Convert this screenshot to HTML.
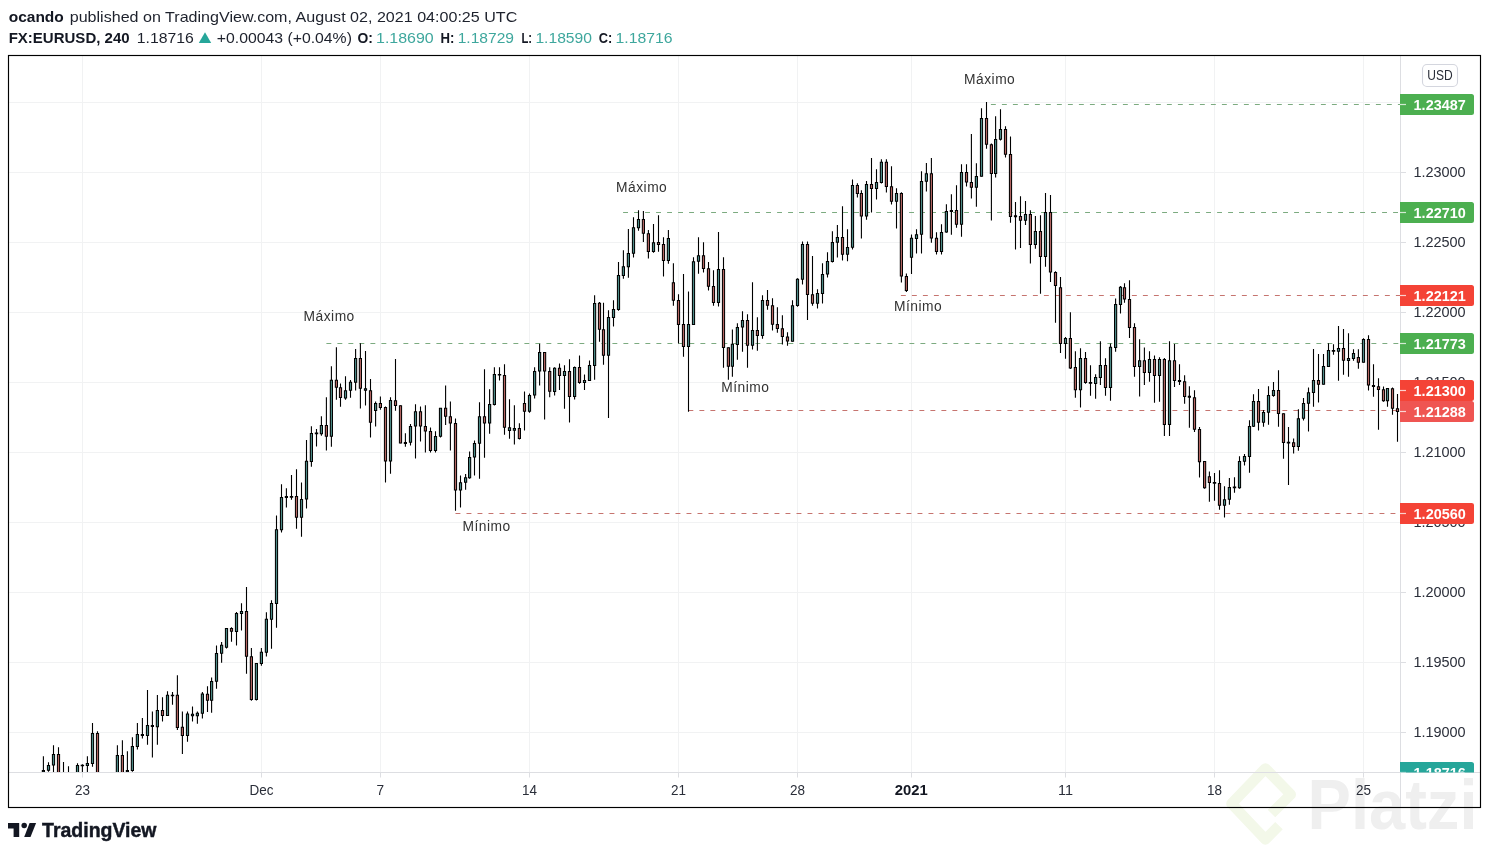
<!DOCTYPE html>
<html lang="es"><head><meta charset="utf-8"><title>EURUSD - TradingView</title>
<style>
html,body{margin:0;padding:0;background:#fff;}
body{width:1489px;height:854px;overflow:hidden;position:relative;font-family:"Liberation Sans",sans-serif;}
svg{position:absolute;left:0;top:0;display:block;will-change:transform;}
text{font-family:"Liberation Sans",sans-serif;}
.ax{font-size:15.3px;fill:#2a2e39;}
.lb{font-size:14.7px;font-weight:bold;fill:#fff;}
.tm{font-size:15.2px;fill:#2a2e39;text-anchor:middle;}
.nt{font-size:13.8px;fill:#333;letter-spacing:0.5px;}
.h{font-size:14.6px;fill:#1d212c;}
.hb{font-size:14.6px;font-weight:bold;fill:#131722;}
.ht{font-size:14.6px;fill:#3ea79d;}
</style></head><body>
<svg width="1489" height="854" viewBox="0 0 1489 854">
<rect x="0" y="0" width="1489" height="854" fill="#fff"/>
<g>
<path d="M1271.5 813.6 L1290.7 794.4 L1265.4 768.5 L1231.5 803.7 L1265.4 839.4 L1279 825.6" fill="none" stroke="#f3f8e9" stroke-width="10.6" stroke-linejoin="round" stroke-linecap="butt"/>
<text x="1307.5" y="829" style="font-size:69.5px;font-weight:bold;fill:#efefef" textLength="170" lengthAdjust="spacingAndGlyphs">Platzi</text>
</g>
<defs><clipPath id="cp"><rect x="9" y="56" width="1391" height="716"/></clipPath>
<clipPath id="cpa"><rect x="1400" y="56" width="80" height="716.5"/></clipPath></defs>
<g fill="#f1f2f3">
<rect x="82.0" y="56" width="1" height="716"/>
<rect x="261.0" y="56" width="1" height="716"/>
<rect x="380.0" y="56" width="1" height="716"/>
<rect x="529.0" y="56" width="1" height="716"/>
<rect x="678.0" y="56" width="1" height="716"/>
<rect x="797.0" y="56" width="1" height="716"/>
<rect x="911.0" y="56" width="1" height="716"/>
<rect x="1065.0" y="56" width="1" height="716"/>
<rect x="1214.0" y="56" width="1" height="716"/>
<rect x="1363.0" y="56" width="1" height="716"/>
<rect x="9" y="102.0" width="1391" height="1"/>
<rect x="9" y="172.0" width="1391" height="1"/>
<rect x="9" y="242.0" width="1391" height="1"/>
<rect x="9" y="312.0" width="1391" height="1"/>
<rect x="9" y="382.0" width="1391" height="1"/>
<rect x="9" y="452.0" width="1391" height="1"/>
<rect x="9" y="522.0" width="1391" height="1"/>
<rect x="9" y="592.0" width="1391" height="1"/>
<rect x="9" y="662.0" width="1391" height="1"/>
<rect x="9" y="732.0" width="1391" height="1"/>
</g>
<line x1="990.9" y1="104.5" x2="1406" y2="104.5" stroke="#7cab80" stroke-width="1.2" stroke-dasharray="4.9 6.1"/>
<line x1="623.1" y1="212.5" x2="1406" y2="212.5" stroke="#7cab80" stroke-width="1.2" stroke-dasharray="4.9 6.1"/>
<line x1="900.9" y1="295.5" x2="1406" y2="295.5" stroke="#c6746f" stroke-width="1.2" stroke-dasharray="4.9 6.1"/>
<line x1="326.4" y1="343.5" x2="1406" y2="343.5" stroke="#7cab80" stroke-width="1.2" stroke-dasharray="4.9 6.1"/>
<line x1="688.4" y1="410.5" x2="1406" y2="410.5" stroke="#c6746f" stroke-width="1.2" stroke-dasharray="4.9 6.1"/>
<line x1="455.5" y1="513.5" x2="1406" y2="513.5" stroke="#c6746f" stroke-width="1.2" stroke-dasharray="4.9 6.1"/>
<g clip-path="url(#cp)">
<path d="M42.85 756.2h1.1V773.0h-1.1zM47.95 762.3h1.1V771.7h-1.1zM52.95 745.2h1.1V773.0h-1.1zM57.95 747.3h1.1V773.0h-1.1zM62.95 762.1h1.1V773.0h-1.1zM67.95 766.3h1.1V773.0h-1.1zM76.95 763.2h1.1V773.0h-1.1zM81.85 764.2h1.1V773.0h-1.1zM86.85 756.2h1.1V773.0h-1.1zM91.95 723.1h1.1V766.7h-1.1zM96.95 731.2h1.1V773.0h-1.1zM116.85 745.2h1.1V773.0h-1.1zM121.85 740.3h1.1V773.0h-1.1zM126.85 751.2h1.1V773.0h-1.1zM131.85 737.3h1.1V771.7h-1.1zM136.85 723.1h1.1V749.6h-1.1zM141.85 718.1h1.1V738.6h-1.1zM146.95 690.1h1.1V744.7h-1.1zM151.85 711.4h1.1V757.6h-1.1zM156.85 695.1h1.1V744.7h-1.1zM161.95 697.2h1.1V721.5h-1.1zM166.95 691.3h1.1V715.6h-1.1zM171.95 692.1h1.1V704.7h-1.1zM176.85 675.3h1.1V729.9h-1.1zM181.85 711.4h1.1V753.9h-1.1zM186.95 711.4h1.1V741.7h-1.1zM191.95 706.4h1.1V721.5h-1.1zM196.85 711.4h1.1V723.7h-1.1zM201.85 692.1h1.1V718.6h-1.1zM206.95 686.2h1.1V711.9h-1.1zM211.05 677.5h1.1V712.8h-1.1zM215.95 645.4h1.1V688.8h-1.1zM221.05 642.1h1.1V662.7h-1.1zM225.95 628.2h1.1V648.4h-1.1zM230.95 627.3h1.1V641.8h-1.1zM235.95 612.1h1.1V645.6h-1.1zM240.95 603.2h1.1V630.5h-1.1zM245.95 587.1h1.1V673.8h-1.1zM250.85 648.1h1.1V700.7h-1.1zM255.85 663.3h1.1V700.5h-1.1zM260.85 648.1h1.1V665.8h-1.1zM265.85 612.3h1.1V656.5h-1.1zM270.95 600.2h1.1V648.7h-1.1zM275.95 515.4h1.1V627.7h-1.1zM280.95 484.3h1.1V532.5h-1.1zM285.85 488.3h1.1V507.6h-1.1zM290.95 475.1h1.1V499.8h-1.1zM295.95 469.2h1.1V528.8h-1.1zM300.95 482.5h1.1V536.7h-1.1zM305.95 440.1h1.1V508.6h-1.1zM310.85 426.2h1.1V466.7h-1.1zM315.95 429.1h1.1V446.6h-1.1zM320.85 416.2h1.1V435.8h-1.1zM325.85 397.2h1.1V450.6h-1.1zM330.85 366.2h1.1V446.7h-1.1zM335.85 347.2h1.1V399.8h-1.1zM339.95 383.5h1.1V406.8h-1.1zM344.95 376.2h1.1V399.8h-1.1zM349.95 380.1h1.1V397.7h-1.1zM355.05 349.0h1.1V390.5h-1.1zM359.85 343.2h1.1V408.6h-1.1zM364.95 351.1h1.1V405.6h-1.1zM369.95 379.1h1.1V437.5h-1.1zM375.05 401.4h1.1V426.6h-1.1zM379.85 396.4h1.1V409.8h-1.1zM384.95 406.5h1.1V482.6h-1.1zM389.95 397.2h1.1V473.7h-1.1zM394.95 359.1h1.1V410.7h-1.1zM399.95 405.6h1.1V443.3h-1.1zM404.85 433.3h1.1V446.7h-1.1zM409.95 424.1h1.1V445.6h-1.1zM414.95 404.3h1.1V458.5h-1.1zM419.95 406.5h1.1V441.6h-1.1zM424.85 405.3h1.1V452.6h-1.1zM429.95 427.5h1.1V452.6h-1.1zM434.95 431.3h1.1V452.6h-1.1zM439.95 408.1h1.1V437.5h-1.1zM445.05 385.5h1.1V424.9h-1.1zM449.85 401.4h1.1V450.6h-1.1zM454.95 418.6h1.1V510.7h-1.1zM459.95 475.4h1.1V507.6h-1.1zM465.05 474.1h1.1V489.7h-1.1zM469.05 451.4h1.1V478.8h-1.1zM473.95 440.4h1.1V475.4h-1.1zM478.95 402.3h1.1V478.8h-1.1zM483.95 369.2h1.1V457.7h-1.1zM489.05 389.2h1.1V433.8h-1.1zM493.85 367.3h1.1V405.6h-1.1zM498.95 367.3h1.1V380.4h-1.1zM503.95 364.2h1.1V434.7h-1.1zM508.95 399.2h1.1V438.7h-1.1zM513.85 405.3h1.1V444.6h-1.1zM518.85 423.3h1.1V439.5h-1.1zM523.95 391.4h1.1V430.5h-1.1zM528.95 393.4h1.1V412.7h-1.1zM534.05 367.3h1.1V398.6h-1.1zM539.05 343.8h1.1V385.5h-1.1zM544.05 352.2h1.1V419.6h-1.1zM549.15 367.3h1.1V397.2h-1.1zM554.05 367.2h1.1V395.4h-1.1zM558.95 363.4h1.1V389.9h-1.1zM563.95 365.2h1.1V408.7h-1.1zM568.95 359.2h1.1V422.6h-1.1zM574.05 366.4h1.1V399.6h-1.1zM578.95 355.5h1.1V383.7h-1.1zM583.95 374.5h1.1V389.9h-1.1zM588.95 360.5h1.1V380.7h-1.1zM594.05 295.3h1.1V379.8h-1.1zM598.95 302.1h1.1V341.7h-1.1zM602.95 302.8h1.1V364.7h-1.1zM607.95 310.3h1.1V417.9h-1.1zM612.95 300.2h1.1V326.6h-1.1zM617.95 262.0h1.1V310.7h-1.1zM622.85 250.3h1.1V278.8h-1.1zM627.85 229.1h1.1V277.8h-1.1zM632.95 217.3h1.1V257.6h-1.1zM637.95 210.3h1.1V230.8h-1.1zM642.85 211.1h1.1V241.9h-1.1zM647.85 230.1h1.1V258.6h-1.1zM652.95 224.1h1.1V252.8h-1.1zM657.95 215.3h1.1V251.8h-1.1zM662.95 237.2h1.1V276.6h-1.1zM667.85 230.1h1.1V263.7h-1.1zM672.85 263.2h1.1V305.7h-1.1zM677.95 294.3h1.1V343.4h-1.1zM682.95 274.1h1.1V356.8h-1.1zM687.95 291.4h1.1V411.7h-1.1zM692.95 257.3h1.1V324.8h-1.1zM697.95 237.2h1.1V273.8h-1.1zM702.95 242.2h1.1V272.4h-1.1zM707.95 262.0h1.1V290.6h-1.1zM712.95 270.2h1.1V305.7h-1.1zM717.95 232.1h1.1V306.4h-1.1zM722.95 257.3h1.1V367.7h-1.1zM727.85 347.6h1.1V379.8h-1.1zM731.85 329.5h1.1V376.8h-1.1zM736.85 323.2h1.1V359.7h-1.1zM741.95 311.2h1.1V351.8h-1.1zM746.95 314.3h1.1V367.7h-1.1zM751.95 282.2h1.1V349.6h-1.1zM756.85 317.2h1.1V350.8h-1.1zM761.95 295.3h1.1V338.7h-1.1zM766.95 290.0h1.1V309.8h-1.1zM771.95 298.2h1.1V330.6h-1.1zM776.85 307.3h1.1V332.8h-1.1zM781.85 315.2h1.1V344.6h-1.1zM786.95 332.3h1.1V345.7h-1.1zM791.95 300.2h1.1V341.4h-1.1zM796.95 278.3h1.1V306.8h-1.1zM801.95 241.4h1.1V284.5h-1.1zM806.95 241.4h1.1V320.0h-1.1zM811.95 256.1h1.1V305.7h-1.1zM816.95 289.3h1.1V308.5h-1.1zM821.95 263.2h1.1V303.5h-1.1zM826.95 252.2h1.1V277.5h-1.1zM831.85 231.3h1.1V262.6h-1.1zM836.85 225.1h1.1V257.5h-1.1zM841.95 206.2h1.1V260.5h-1.1zM846.95 229.2h1.1V261.3h-1.1zM851.95 179.4h1.1V249.6h-1.1zM856.85 183.2h1.1V197.5h-1.1zM860.85 190.3h1.1V238.6h-1.1zM865.95 181.1h1.1V219.7h-1.1zM870.95 158.1h1.1V212.6h-1.1zM875.95 169.3h1.1V199.5h-1.1zM880.85 159.2h1.1V183.6h-1.1zM885.85 159.2h1.1V192.5h-1.1zM890.95 166.3h1.1V204.6h-1.1zM895.95 188.3h1.1V228.6h-1.1zM900.85 192.3h1.1V282.6h-1.1zM905.85 273.4h1.1V291.9h-1.1zM910.95 234.5h1.1V273.9h-1.1zM915.95 229.2h1.1V253.6h-1.1zM920.95 171.3h1.1V253.6h-1.1zM925.85 163.1h1.1V191.6h-1.1zM930.85 158.1h1.1V242.7h-1.1zM935.95 232.3h1.1V254.4h-1.1zM940.95 224.2h1.1V254.4h-1.1zM945.85 204.2h1.1V232.8h-1.1zM950.85 194.2h1.1V234.8h-1.1zM955.95 185.3h1.1V227.7h-1.1zM960.95 164.3h1.1V236.8h-1.1zM965.95 164.3h1.1V186.6h-1.1zM970.85 133.9h1.1V198.6h-1.1zM975.85 163.2h1.1V206.7h-1.1zM980.95 108.2h1.1V176.4h-1.1zM985.95 102.0h1.1V148.7h-1.1zM990.85 143.4h1.1V220.5h-1.1zM995.05 116.2h1.1V177.6h-1.1zM999.95 109.2h1.1V140.6h-1.1zM1004.95 126.3h1.1V157.5h-1.1zM1009.95 136.4h1.1V222.7h-1.1zM1014.95 202.0h1.1V249.6h-1.1zM1019.95 196.3h1.1V247.9h-1.1zM1024.95 201.1h1.1V224.9h-1.1zM1029.85 210.2h1.1V263.6h-1.1zM1034.85 216.1h1.1V248.8h-1.1zM1039.95 215.3h1.1V293.8h-1.1zM1044.95 193.1h1.1V266.8h-1.1zM1049.95 195.1h1.1V281.9h-1.1zM1054.95 271.2h1.1V322.7h-1.1zM1059.95 277.0h1.1V353.0h-1.1zM1064.95 337.0h1.1V358.8h-1.1zM1069.85 312.2h1.1V368.9h-1.1zM1074.85 351.3h1.1V397.8h-1.1zM1079.95 348.3h1.1V407.5h-1.1zM1084.95 352.1h1.1V383.7h-1.1zM1089.95 365.2h1.1V395.8h-1.1zM1095.05 374.3h1.1V398.8h-1.1zM1099.85 341.2h1.1V384.9h-1.1zM1104.95 358.3h1.1V395.8h-1.1zM1109.95 343.4h1.1V400.8h-1.1zM1115.05 298.4h1.1V351.8h-1.1zM1119.95 286.1h1.1V313.6h-1.1zM1123.95 283.3h1.1V302.8h-1.1zM1128.95 280.2h1.1V337.9h-1.1zM1133.95 323.2h1.1V376.8h-1.1zM1139.05 339.2h1.1V396.6h-1.1zM1143.85 347.4h1.1V384.9h-1.1zM1148.95 351.3h1.1V381.8h-1.1zM1153.95 355.5h1.1V402.8h-1.1zM1158.95 357.2h1.1V401.7h-1.1zM1163.85 358.0h1.1V436.0h-1.1zM1168.95 341.2h1.1V436.0h-1.1zM1173.95 344.1h1.1V386.9h-1.1zM1178.95 364.2h1.1V384.9h-1.1zM1184.05 375.3h1.1V403.8h-1.1zM1188.85 386.2h1.1V427.7h-1.1zM1193.95 390.2h1.1V432.0h-1.1zM1198.95 426.9h1.1V477.6h-1.1zM1204.05 461.4h1.1V488.7h-1.1zM1208.85 471.4h1.1V501.7h-1.1zM1213.95 473.1h1.1V500.8h-1.1zM1218.95 470.3h1.1V509.7h-1.1zM1223.95 486.2h1.1V517.6h-1.1zM1228.85 478.1h1.1V504.7h-1.1zM1233.95 477.3h1.1V492.8h-1.1zM1238.95 456.3h1.1V488.7h-1.1zM1243.95 454.1h1.1V465.6h-1.1zM1248.95 420.2h1.1V472.8h-1.1zM1252.95 394.2h1.1V427.0h-1.1zM1257.95 389.1h1.1V430.6h-1.1zM1262.95 410.1h1.1V426.7h-1.1zM1267.95 386.2h1.1V424.8h-1.1zM1272.95 382.0h1.1V396.8h-1.1zM1277.95 370.2h1.1V426.7h-1.1zM1282.95 413.5h1.1V458.8h-1.1zM1287.95 427.0h1.1V484.9h-1.1zM1293.05 438.4h1.1V453.5h-1.1zM1297.85 409.3h1.1V450.8h-1.1zM1302.95 398.1h1.1V420.6h-1.1zM1307.95 387.4h1.1V431.6h-1.1zM1312.95 349.1h1.1V406.8h-1.1zM1317.95 354.1h1.1V402.6h-1.1zM1322.95 354.1h1.1V384.5h-1.1zM1327.95 343.2h1.1V366.6h-1.1zM1332.95 344.3h1.1V354.8h-1.1zM1337.95 326.1h1.1V380.8h-1.1zM1342.95 329.1h1.1V374.8h-1.1zM1347.95 333.2h1.1V376.8h-1.1zM1352.95 349.3h1.1V360.7h-1.1zM1357.85 349.3h1.1V368.7h-1.1zM1362.95 338.2h1.1V362.4h-1.1zM1367.95 335.2h1.1V390.6h-1.1zM1372.95 364.2h1.1V396.7h-1.1zM1377.95 378.3h1.1V429.8h-1.1zM1382.95 386.6h1.1V401.8h-1.1zM1386.95 388.4h1.1V406.8h-1.1zM1391.95 387.4h1.1V414.8h-1.1zM1396.95 394.1h1.1V441.7h-1.1z" fill="#000"/>
<path d="M41.80 770.0h3.2V772.3h-3.2zM46.90 765.0h3.2V770.7h-3.2zM51.90 754.0h3.2V765.6h-3.2zM56.90 754.0h3.2V773.3h-3.2zM61.80 772.2h3.4V773.8h-3.4zM66.80 772.2h3.4V773.8h-3.4zM75.90 765.0h3.2V773.3h-3.2zM80.70 764.8h3.4V766.3h-3.4zM85.80 762.9h3.2V765.9h-3.2zM90.90 733.0h3.2V764.0h-3.2zM95.90 733.0h3.2V773.3h-3.2zM115.80 755.0h3.2V773.3h-3.2zM120.80 755.0h3.2V773.3h-3.2zM125.80 770.0h3.2V772.3h-3.2zM130.80 745.9h3.2V771.0h-3.2zM135.80 733.9h3.2V746.9h-3.2zM140.80 733.9h3.2V736.1h-3.2zM145.90 724.9h3.2V736.1h-3.2zM150.80 725.1h3.2V726.9h-3.2zM155.80 710.0h3.2V727.2h-3.2zM160.90 710.0h3.2V715.9h-3.2zM165.90 694.8h3.2V715.9h-3.2zM170.80 694.7h3.4V696.3h-3.4zM175.80 694.8h3.2V728.0h-3.2zM180.80 726.7h3.2V736.1h-3.2zM185.90 713.6h3.2V736.1h-3.2zM190.90 713.7h3.2V716.3h-3.2zM195.80 712.8h3.2V716.3h-3.2zM200.80 693.5h3.2V713.7h-3.2zM205.90 693.8h3.2V700.8h-3.2zM210.00 680.9h3.2V700.8h-3.2zM214.90 652.9h3.2V681.8h-3.2zM220.00 644.8h3.2V653.8h-3.2zM224.90 627.9h3.2V647.7h-3.2zM229.90 627.9h3.2V631.8h-3.2zM234.90 612.9h3.2V631.9h-3.2zM239.90 610.9h3.2V614.0h-3.2zM244.90 610.9h3.2V656.8h-3.2zM249.80 656.2h3.2V700.0h-3.2zM254.80 663.0h3.2V700.0h-3.2zM259.80 651.7h3.2V664.1h-3.2zM264.80 618.8h3.2V652.7h-3.2zM269.90 602.9h3.2V619.8h-3.2zM274.90 529.2h3.2V603.9h-3.2zM279.90 496.9h3.2V530.3h-3.2zM284.80 496.1h3.2V497.9h-3.2zM289.80 496.1h3.4V497.8h-3.4zM294.90 496.1h3.2V517.7h-3.2zM299.90 498.9h3.2V517.7h-3.2zM304.90 460.8h3.2V499.5h-3.2zM309.80 433.0h3.2V462.0h-3.2zM314.80 432.6h3.4V434.2h-3.4zM319.80 425.1h3.2V434.3h-3.2zM324.80 425.1h3.2V436.7h-3.2zM329.80 379.8h3.2V436.7h-3.2zM334.80 379.8h3.2V387.8h-3.2zM338.90 387.2h3.2V397.9h-3.2zM343.90 390.2h3.2V398.4h-3.2zM348.90 381.8h3.2V390.8h-3.2zM354.00 358.0h3.2V382.8h-3.2zM358.80 358.0h3.2V388.8h-3.2zM363.90 388.2h3.2V390.8h-3.2zM368.90 390.2h3.2V422.7h-3.2zM374.00 403.1h3.2V411.0h-3.2zM378.80 403.1h3.2V407.9h-3.2zM383.90 407.0h3.2V461.4h-3.2zM388.90 400.0h3.2V461.4h-3.2zM393.90 400.3h3.2V405.9h-3.2zM398.90 405.3h3.2V443.6h-3.2zM403.80 442.1h3.2V443.9h-3.2zM408.90 426.0h3.2V442.7h-3.2zM413.90 411.2h3.2V426.6h-3.2zM418.90 411.2h3.2V426.6h-3.2zM423.80 426.0h3.2V431.6h-3.2zM428.90 431.0h3.2V450.9h-3.2zM433.90 436.1h3.2V450.9h-3.2zM438.90 407.8h3.2V436.7h-3.2zM444.00 407.8h3.2V416.8h-3.2zM448.80 416.2h3.2V423.6h-3.2zM453.90 423.0h3.2V490.5h-3.2zM458.90 482.2h3.2V490.5h-3.2zM464.00 477.3h3.2V482.8h-3.2zM468.00 457.0h3.2V478.2h-3.2zM472.90 443.1h3.2V457.6h-3.2zM477.90 416.2h3.2V443.7h-3.2zM482.90 416.2h3.2V423.6h-3.2zM488.00 404.0h3.2V423.6h-3.2zM492.80 373.9h3.2V405.1h-3.2zM497.80 374.0h3.4V375.6h-3.4zM502.90 375.1h3.2V427.8h-3.2zM507.90 427.2h3.2V431.1h-3.2zM512.80 428.0h3.2V430.8h-3.2zM517.80 428.0h3.2V439.0h-3.2zM522.90 403.1h3.2V411.8h-3.2zM527.90 394.9h3.2V411.8h-3.2zM533.00 370.9h3.2V395.5h-3.2zM538.00 351.9h3.2V371.5h-3.2zM543.00 351.9h3.2V371.5h-3.2zM548.10 370.9h3.2V391.7h-3.2zM553.00 367.8h3.2V391.9h-3.2zM557.90 367.8h3.2V375.9h-3.2zM562.90 371.1h3.2V375.9h-3.2zM567.90 371.1h3.2V396.9h-3.2zM573.00 366.9h3.2V396.9h-3.2zM577.90 366.9h3.2V383.1h-3.2zM582.90 379.9h3.2V383.1h-3.2zM587.90 364.9h3.2V381.0h-3.2zM593.00 302.9h3.2V365.9h-3.2zM597.90 302.8h3.2V329.8h-3.2zM601.90 329.2h3.2V355.8h-3.2zM606.90 316.9h3.2V355.8h-3.2zM611.90 309.0h3.2V318.0h-3.2zM616.90 275.1h3.2V310.0h-3.2zM621.80 266.2h3.2V276.1h-3.2zM626.80 253.1h3.2V267.2h-3.2zM631.90 227.3h3.2V253.7h-3.2zM636.90 218.9h3.2V228.2h-3.2zM641.80 218.9h3.2V233.8h-3.2zM646.80 233.2h3.2V252.1h-3.2zM651.90 242.2h3.2V252.1h-3.2zM656.90 241.9h3.2V245.0h-3.2zM661.90 244.1h3.2V261.0h-3.2zM666.80 238.0h3.2V261.0h-3.2zM671.80 282.2h3.2V300.8h-3.2zM676.90 299.9h3.2V325.1h-3.2zM681.90 324.1h3.2V346.9h-3.2zM686.90 324.1h3.2V346.9h-3.2zM691.90 261.2h3.2V325.1h-3.2zM696.90 255.3h3.2V261.8h-3.2zM701.90 255.3h3.2V268.9h-3.2zM706.90 268.3h3.2V286.7h-3.2zM711.90 286.1h3.2V302.9h-3.2zM716.90 269.1h3.2V302.9h-3.2zM721.90 269.1h3.2V347.9h-3.2zM726.80 347.3h3.2V366.7h-3.2zM730.80 343.8h3.2V366.7h-3.2zM735.80 327.0h3.2V344.9h-3.2zM740.90 319.9h3.2V327.6h-3.2zM745.90 319.9h3.2V345.7h-3.2zM750.90 330.0h3.2V345.7h-3.2zM755.80 330.0h3.2V336.0h-3.2zM760.90 300.0h3.2V336.0h-3.2zM765.90 300.0h3.2V305.8h-3.2zM770.90 305.2h3.2V324.7h-3.2zM775.80 324.1h3.2V328.9h-3.2zM780.80 328.3h3.2V337.0h-3.2zM785.90 336.4h3.2V341.5h-3.2zM790.90 305.2h3.2V341.7h-3.2zM795.90 278.7h3.2V306.0h-3.2zM800.90 244.1h3.2V279.7h-3.2zM805.90 244.1h3.2V294.9h-3.2zM810.90 294.3h3.2V303.8h-3.2zM815.90 293.1h3.2V303.8h-3.2zM820.90 274.0h3.2V294.0h-3.2zM825.90 261.1h3.2V274.6h-3.2zM830.80 241.9h3.2V262.1h-3.2zM835.80 236.9h3.2V242.7h-3.2zM840.90 237.0h3.2V254.7h-3.2zM845.90 247.1h3.2V254.7h-3.2zM850.90 185.0h3.2V247.7h-3.2zM855.80 185.0h3.2V194.0h-3.2zM859.80 193.0h3.2V216.6h-3.2zM864.90 184.1h3.2V216.6h-3.2zM869.90 184.1h3.2V188.9h-3.2zM874.90 181.9h3.2V188.9h-3.2zM879.80 161.8h3.2V183.0h-3.2zM884.80 161.8h3.2V186.9h-3.2zM889.90 186.3h3.2V201.8h-3.2zM894.90 193.0h3.2V201.8h-3.2zM899.80 193.0h3.2V276.6h-3.2zM904.80 276.0h3.2V291.0h-3.2zM909.90 237.8h3.2V257.8h-3.2zM914.90 234.2h3.2V239.0h-3.2zM919.90 181.1h3.2V234.8h-3.2zM924.80 173.2h3.2V181.7h-3.2zM929.80 173.2h3.2V238.4h-3.2zM934.90 237.8h3.2V251.9h-3.2zM939.90 232.0h3.2V251.9h-3.2zM944.80 211.0h3.2V232.6h-3.2zM949.80 210.1h3.2V212.1h-3.2zM954.90 210.1h3.2V224.7h-3.2zM959.90 171.9h3.2V224.7h-3.2zM964.90 171.9h3.2V182.5h-3.2zM969.80 181.9h3.2V187.8h-3.2zM974.80 176.1h3.2V187.8h-3.2zM979.90 118.1h3.2V176.7h-3.2zM984.90 118.1h3.2V144.8h-3.2zM989.80 144.2h3.2V173.9h-3.2zM994.00 139.1h3.2V173.9h-3.2zM998.90 128.9h3.2V139.7h-3.2zM1003.90 128.9h3.2V154.7h-3.2zM1008.90 154.1h3.2V217.0h-3.2zM1013.90 215.3h3.2V217.2h-3.2zM1018.90 215.9h3.2V220.8h-3.2zM1023.90 214.0h3.2V220.8h-3.2zM1028.80 214.1h3.2V244.9h-3.2zM1033.80 230.9h3.2V244.9h-3.2zM1038.90 230.9h3.2V257.0h-3.2zM1043.90 211.9h3.2V257.0h-3.2zM1048.90 211.9h3.2V272.6h-3.2zM1053.90 272.0h3.2V286.1h-3.2zM1058.90 287.2h3.2V344.0h-3.2zM1063.90 338.1h3.2V344.0h-3.2zM1068.80 338.1h3.2V368.4h-3.2zM1073.80 366.9h3.2V390.2h-3.2zM1078.90 358.0h3.2V390.2h-3.2zM1083.90 358.0h3.2V383.1h-3.2zM1088.80 382.1h3.4V383.7h-3.4zM1094.00 377.0h3.2V384.0h-3.2zM1098.80 364.9h3.2V377.9h-3.2zM1103.90 364.9h3.2V388.0h-3.2zM1108.90 346.8h3.2V388.0h-3.2zM1114.00 304.0h3.2V347.9h-3.2zM1118.90 286.8h3.2V305.0h-3.2zM1122.90 287.2h3.2V299.6h-3.2zM1127.90 299.0h3.2V328.1h-3.2zM1132.90 327.0h3.2V367.0h-3.2zM1138.00 360.2h3.2V367.0h-3.2zM1142.80 360.2h3.2V372.9h-3.2zM1147.90 359.0h3.2V372.9h-3.2zM1152.90 359.0h3.2V375.9h-3.2zM1157.90 359.0h3.2V375.9h-3.2zM1162.80 359.0h3.2V425.0h-3.2zM1167.90 360.2h3.2V425.0h-3.2zM1172.90 360.2h3.2V381.0h-3.2zM1177.90 379.9h3.2V382.1h-3.2zM1183.00 381.2h3.2V396.9h-3.2zM1187.80 395.8h3.2V397.8h-3.2zM1192.90 397.2h3.2V429.7h-3.2zM1197.90 428.9h3.2V462.2h-3.2zM1203.00 461.1h3.2V488.2h-3.2zM1207.80 476.2h3.2V483.0h-3.2zM1212.80 482.1h3.4V483.7h-3.4zM1217.90 482.9h3.2V505.8h-3.2zM1222.90 499.2h3.2V505.8h-3.2zM1227.80 487.1h3.2V499.8h-3.2zM1232.80 486.6h3.4V488.2h-3.4zM1237.90 461.1h3.2V488.2h-3.2zM1242.90 456.0h3.2V461.7h-3.2zM1247.90 426.1h3.2V457.0h-3.2zM1251.90 401.1h3.2V426.7h-3.2zM1256.90 401.1h3.2V422.7h-3.2zM1261.90 411.9h3.2V422.7h-3.2zM1266.90 395.1h3.2V412.7h-3.2zM1271.90 389.9h3.2V396.1h-3.2zM1276.90 389.9h3.2V413.9h-3.2zM1281.90 413.2h3.2V442.9h-3.2zM1286.80 441.8h3.4V443.4h-3.4zM1292.00 442.3h3.2V446.9h-3.2zM1296.80 418.2h3.2V446.9h-3.2zM1301.90 403.1h3.2V418.8h-3.2zM1306.90 392.2h3.2V403.7h-3.2zM1311.90 379.9h3.2V392.9h-3.2zM1316.90 379.9h3.2V384.8h-3.2zM1321.90 365.9h3.2V384.8h-3.2zM1326.90 350.0h3.2V366.9h-3.2zM1331.80 350.1h3.4V351.7h-3.4zM1336.90 348.0h3.2V351.8h-3.2zM1341.90 348.0h3.2V360.7h-3.2zM1346.90 358.1h3.2V361.0h-3.2zM1351.90 353.0h3.2V359.0h-3.2zM1356.80 357.0h3.2V362.7h-3.2zM1361.90 338.9h3.2V362.7h-3.2zM1366.90 338.9h3.2V385.6h-3.2zM1371.90 385.0h3.2V386.9h-3.2zM1376.90 386.3h3.2V389.9h-3.2zM1381.90 389.3h3.2V401.2h-3.2zM1385.90 388.1h3.2V401.2h-3.2zM1390.90 388.3h3.2V408.8h-3.2zM1395.90 408.2h3.2V412.1h-3.2z" fill="#000"/>
<path d="M42.82 771.0h1.16V771.3h-1.16zM47.92 766.0h1.16V769.7h-1.16zM52.92 755.0h1.16V764.6h-1.16zM76.92 766.0h1.16V772.3h-1.16zM86.82 763.9h1.16V764.9h-1.16zM91.92 734.0h1.16V763.0h-1.16zM116.82 756.0h1.16V772.3h-1.16zM126.82 771.0h1.16V771.3h-1.16zM131.82 746.9h1.16V770.0h-1.16zM136.82 734.9h1.16V745.9h-1.16zM146.92 725.9h1.16V735.1h-1.16zM156.82 711.0h1.16V726.2h-1.16zM166.92 695.8h1.16V714.9h-1.16zM186.92 714.6h1.16V735.1h-1.16zM191.92 714.7h1.16V715.3h-1.16zM196.82 713.8h1.16V715.3h-1.16zM201.82 694.5h1.16V712.7h-1.16zM211.02 681.9h1.16V699.8h-1.16zM215.92 653.9h1.16V680.8h-1.16zM221.02 645.8h1.16V652.8h-1.16zM225.92 628.9h1.16V646.7h-1.16zM235.92 613.9h1.16V630.9h-1.16zM240.92 611.9h1.16V613.0h-1.16zM255.82 664.0h1.16V699.0h-1.16zM260.82 652.7h1.16V663.1h-1.16zM265.82 619.8h1.16V651.7h-1.16zM270.92 603.9h1.16V618.8h-1.16zM275.92 530.2h1.16V602.9h-1.16zM280.92 497.9h1.16V529.3h-1.16zM300.92 499.9h1.16V516.7h-1.16zM305.92 461.8h1.16V498.5h-1.16zM310.82 434.0h1.16V461.0h-1.16zM320.82 426.1h1.16V433.3h-1.16zM330.82 380.8h1.16V435.7h-1.16zM344.92 391.2h1.16V397.4h-1.16zM349.92 382.8h1.16V389.8h-1.16zM355.02 359.0h1.16V381.8h-1.16zM364.92 389.2h1.16V389.8h-1.16zM375.02 404.1h1.16V410.0h-1.16zM389.92 401.0h1.16V460.4h-1.16zM409.92 427.0h1.16V441.7h-1.16zM414.92 412.2h1.16V425.6h-1.16zM434.92 437.1h1.16V449.9h-1.16zM439.92 408.8h1.16V435.7h-1.16zM459.92 483.2h1.16V489.5h-1.16zM465.02 478.3h1.16V481.8h-1.16zM469.02 458.0h1.16V477.2h-1.16zM473.92 444.1h1.16V456.6h-1.16zM478.92 417.2h1.16V442.7h-1.16zM489.02 405.0h1.16V422.6h-1.16zM493.82 374.9h1.16V404.1h-1.16zM508.92 428.2h1.16V430.1h-1.16zM513.82 429.0h1.16V429.8h-1.16zM528.92 395.9h1.16V410.8h-1.16zM534.02 371.9h1.16V394.5h-1.16zM539.02 352.9h1.16V370.5h-1.16zM554.02 368.8h1.16V390.9h-1.16zM563.92 372.1h1.16V374.9h-1.16zM574.02 367.9h1.16V395.9h-1.16zM583.92 380.9h1.16V382.1h-1.16zM588.92 365.9h1.16V380.0h-1.16zM594.02 303.9h1.16V364.9h-1.16zM607.92 317.9h1.16V354.8h-1.16zM612.92 310.0h1.16V317.0h-1.16zM617.92 276.1h1.16V309.0h-1.16zM622.82 267.2h1.16V275.1h-1.16zM627.82 254.1h1.16V266.2h-1.16zM632.92 228.3h1.16V252.7h-1.16zM637.92 219.9h1.16V227.2h-1.16zM652.92 243.2h1.16V251.1h-1.16zM667.82 239.0h1.16V260.0h-1.16zM687.92 325.1h1.16V345.9h-1.16zM692.92 262.2h1.16V324.1h-1.16zM697.92 256.3h1.16V260.8h-1.16zM717.92 270.1h1.16V301.9h-1.16zM731.82 344.8h1.16V365.7h-1.16zM736.82 328.0h1.16V343.9h-1.16zM741.92 320.9h1.16V326.6h-1.16zM751.92 331.0h1.16V344.7h-1.16zM761.92 301.0h1.16V335.0h-1.16zM791.92 306.2h1.16V340.7h-1.16zM796.92 279.7h1.16V305.0h-1.16zM801.92 245.1h1.16V278.7h-1.16zM816.92 294.1h1.16V302.8h-1.16zM821.92 275.0h1.16V293.0h-1.16zM826.92 262.1h1.16V273.6h-1.16zM831.82 242.9h1.16V261.1h-1.16zM836.82 237.9h1.16V241.7h-1.16zM846.92 248.1h1.16V253.7h-1.16zM851.92 186.0h1.16V246.7h-1.16zM865.92 185.1h1.16V215.6h-1.16zM875.92 182.9h1.16V187.9h-1.16zM880.82 162.8h1.16V182.0h-1.16zM895.92 194.0h1.16V200.8h-1.16zM910.92 238.8h1.16V256.8h-1.16zM915.92 235.2h1.16V238.0h-1.16zM920.92 182.1h1.16V233.8h-1.16zM925.82 174.2h1.16V180.7h-1.16zM940.92 233.0h1.16V250.9h-1.16zM945.82 212.0h1.16V231.6h-1.16zM960.92 172.9h1.16V223.7h-1.16zM975.82 177.1h1.16V186.8h-1.16zM980.92 119.1h1.16V175.7h-1.16zM995.02 140.1h1.16V172.9h-1.16zM999.92 129.9h1.16V138.7h-1.16zM1024.92 215.0h1.16V219.8h-1.16zM1034.82 231.9h1.16V243.9h-1.16zM1044.92 212.9h1.16V256.0h-1.16zM1064.92 339.1h1.16V343.0h-1.16zM1079.92 359.0h1.16V389.2h-1.16zM1095.02 378.0h1.16V383.0h-1.16zM1099.82 365.9h1.16V376.9h-1.16zM1109.92 347.8h1.16V387.0h-1.16zM1115.02 305.0h1.16V346.9h-1.16zM1119.92 287.8h1.16V304.0h-1.16zM1139.02 361.2h1.16V366.0h-1.16zM1148.92 360.0h1.16V371.9h-1.16zM1158.92 360.0h1.16V374.9h-1.16zM1168.92 361.2h1.16V424.0h-1.16zM1223.92 500.2h1.16V504.8h-1.16zM1228.82 488.1h1.16V498.8h-1.16zM1238.92 462.1h1.16V487.2h-1.16zM1243.92 457.0h1.16V460.7h-1.16zM1248.92 427.1h1.16V456.0h-1.16zM1252.92 402.1h1.16V425.7h-1.16zM1262.92 412.9h1.16V421.7h-1.16zM1267.92 396.1h1.16V411.7h-1.16zM1272.92 390.9h1.16V395.1h-1.16zM1297.82 419.2h1.16V445.9h-1.16zM1302.92 404.1h1.16V417.8h-1.16zM1307.92 393.2h1.16V402.7h-1.16zM1312.92 380.9h1.16V391.9h-1.16zM1322.92 366.9h1.16V383.8h-1.16zM1327.92 351.0h1.16V365.9h-1.16zM1337.92 349.0h1.16V350.8h-1.16zM1347.92 359.1h1.16V360.0h-1.16zM1352.92 354.0h1.16V358.0h-1.16zM1362.92 339.9h1.16V361.7h-1.16zM1386.92 389.1h1.16V400.2h-1.16z" fill="#4d8a86"/>
<path d="M57.92 755.0h1.16V772.3h-1.16zM96.92 734.0h1.16V772.3h-1.16zM121.82 756.0h1.16V772.3h-1.16zM161.92 711.0h1.16V714.9h-1.16zM176.82 695.8h1.16V727.0h-1.16zM181.82 727.7h1.16V735.1h-1.16zM206.92 694.8h1.16V699.8h-1.16zM230.92 628.9h1.16V630.8h-1.16zM245.92 611.9h1.16V655.8h-1.16zM250.82 657.2h1.16V699.0h-1.16zM295.92 497.1h1.16V516.7h-1.16zM325.82 426.1h1.16V435.7h-1.16zM335.82 380.8h1.16V386.8h-1.16zM339.92 388.2h1.16V396.9h-1.16zM359.82 359.0h1.16V387.8h-1.16zM369.92 391.2h1.16V421.7h-1.16zM379.82 404.1h1.16V406.9h-1.16zM384.92 408.0h1.16V460.4h-1.16zM394.92 401.3h1.16V404.9h-1.16zM399.92 406.3h1.16V442.6h-1.16zM419.92 412.2h1.16V425.6h-1.16zM424.82 427.0h1.16V430.6h-1.16zM429.92 432.0h1.16V449.9h-1.16zM445.02 408.8h1.16V415.8h-1.16zM449.82 417.2h1.16V422.6h-1.16zM454.92 424.0h1.16V489.5h-1.16zM483.92 417.2h1.16V422.6h-1.16zM503.92 376.1h1.16V426.8h-1.16zM518.82 429.0h1.16V438.0h-1.16zM523.92 404.1h1.16V410.8h-1.16zM544.02 352.9h1.16V370.5h-1.16zM549.12 371.9h1.16V390.7h-1.16zM558.92 368.8h1.16V374.9h-1.16zM568.92 372.1h1.16V395.9h-1.16zM578.92 367.9h1.16V382.1h-1.16zM598.92 303.8h1.16V328.8h-1.16zM602.92 330.2h1.16V354.8h-1.16zM642.82 219.9h1.16V232.8h-1.16zM647.82 234.2h1.16V251.1h-1.16zM657.92 242.9h1.16V244.0h-1.16zM662.92 245.1h1.16V260.0h-1.16zM672.82 283.2h1.16V299.8h-1.16zM677.92 300.9h1.16V324.1h-1.16zM682.92 325.1h1.16V345.9h-1.16zM702.92 256.3h1.16V267.9h-1.16zM707.92 269.3h1.16V285.7h-1.16zM712.92 287.1h1.16V301.9h-1.16zM722.92 270.1h1.16V346.9h-1.16zM727.82 348.3h1.16V365.7h-1.16zM746.92 320.9h1.16V344.7h-1.16zM756.82 331.0h1.16V335.0h-1.16zM766.92 301.0h1.16V304.8h-1.16zM771.92 306.2h1.16V323.7h-1.16zM776.82 325.1h1.16V327.9h-1.16zM781.82 329.3h1.16V336.0h-1.16zM786.92 337.4h1.16V340.5h-1.16zM806.92 245.1h1.16V293.9h-1.16zM811.92 295.3h1.16V302.8h-1.16zM841.92 238.0h1.16V253.7h-1.16zM856.82 186.0h1.16V193.0h-1.16zM860.82 194.0h1.16V215.6h-1.16zM870.92 185.1h1.16V187.9h-1.16zM885.82 162.8h1.16V185.9h-1.16zM890.92 187.3h1.16V200.8h-1.16zM900.82 194.0h1.16V275.6h-1.16zM905.82 277.0h1.16V290.0h-1.16zM930.82 174.2h1.16V237.4h-1.16zM935.92 238.8h1.16V250.9h-1.16zM955.92 211.1h1.16V223.7h-1.16zM965.92 172.9h1.16V181.5h-1.16zM970.82 182.9h1.16V186.8h-1.16zM985.92 119.1h1.16V143.8h-1.16zM990.82 145.2h1.16V172.9h-1.16zM1004.92 129.9h1.16V153.7h-1.16zM1009.92 155.1h1.16V216.0h-1.16zM1019.92 216.9h1.16V219.8h-1.16zM1029.82 215.1h1.16V243.9h-1.16zM1039.92 231.9h1.16V256.0h-1.16zM1049.92 212.9h1.16V271.6h-1.16zM1054.92 273.0h1.16V285.1h-1.16zM1059.92 288.2h1.16V343.0h-1.16zM1069.82 339.1h1.16V367.4h-1.16zM1074.82 367.9h1.16V389.2h-1.16zM1084.92 359.0h1.16V382.1h-1.16zM1104.92 365.9h1.16V387.0h-1.16zM1123.92 288.2h1.16V298.6h-1.16zM1128.92 300.0h1.16V327.1h-1.16zM1133.92 328.0h1.16V366.0h-1.16zM1143.82 361.2h1.16V371.9h-1.16zM1153.92 360.0h1.16V374.9h-1.16zM1163.82 360.0h1.16V424.0h-1.16zM1173.92 361.2h1.16V380.0h-1.16zM1184.02 382.2h1.16V395.9h-1.16zM1193.92 398.2h1.16V428.7h-1.16zM1198.92 429.9h1.16V461.2h-1.16zM1204.02 462.1h1.16V487.2h-1.16zM1208.82 477.2h1.16V482.0h-1.16zM1218.92 483.9h1.16V504.8h-1.16zM1257.92 402.1h1.16V421.7h-1.16zM1277.92 390.9h1.16V412.9h-1.16zM1282.92 414.2h1.16V441.9h-1.16zM1293.02 443.3h1.16V445.9h-1.16zM1317.92 380.9h1.16V383.8h-1.16zM1342.92 349.0h1.16V359.7h-1.16zM1357.82 358.0h1.16V361.7h-1.16zM1367.92 339.9h1.16V384.6h-1.16zM1377.92 387.3h1.16V388.9h-1.16zM1382.92 390.3h1.16V400.2h-1.16zM1391.92 389.3h1.16V407.8h-1.16zM1396.92 409.2h1.16V411.1h-1.16z" fill="#b26562"/>
</g>
<g fill="#dddee2">
<rect x="9" y="772" width="1471" height="1"/>
<rect x="1400" y="56" width="1" height="751"/>
<rect x="82.0" y="772" width="1" height="5.5"/>
<rect x="261.0" y="772" width="1" height="5.5"/>
<rect x="380.0" y="772" width="1" height="5.5"/>
<rect x="529.0" y="772" width="1" height="5.5"/>
<rect x="678.0" y="772" width="1" height="5.5"/>
<rect x="797.0" y="772" width="1" height="5.5"/>
<rect x="911.0" y="772" width="1" height="5.5"/>
<rect x="1065.0" y="772" width="1" height="5.5"/>
<rect x="1214.0" y="772" width="1" height="5.5"/>
<rect x="1363.0" y="772" width="1" height="5.5"/>
<rect x="1400" y="102.0" width="6" height="1"/>
<rect x="1400" y="172.0" width="6" height="1"/>
<rect x="1400" y="242.0" width="6" height="1"/>
<rect x="1400" y="312.0" width="6" height="1"/>
<rect x="1400" y="382.0" width="6" height="1"/>
<rect x="1400" y="452.0" width="6" height="1"/>
<rect x="1400" y="522.0" width="6" height="1"/>
<rect x="1400" y="592.0" width="6" height="1"/>
<rect x="1400" y="662.0" width="6" height="1"/>
<rect x="1400" y="732.0" width="6" height="1"/>
</g>
<text class="nt" x="303.5" y="321.0">Máximo</text>
<text class="nt" x="616.0" y="191.8">Máximo</text>
<text class="nt" x="964.0" y="83.8">Máximo</text>
<text class="nt" x="462.5" y="531.0">Mínimo</text>
<text class="nt" x="721.3" y="391.6">Mínimo</text>
<text class="nt" x="893.9" y="311.0">Mínimo</text>
<text class="ax" x="1413.4" y="177.1" textLength="52.2" lengthAdjust="spacingAndGlyphs">1.23000</text>
<text class="ax" x="1413.4" y="247.1" textLength="52.2" lengthAdjust="spacingAndGlyphs">1.22500</text>
<text class="ax" x="1413.4" y="317.1" textLength="52.2" lengthAdjust="spacingAndGlyphs">1.22000</text>
<text class="ax" x="1413.4" y="387.1" textLength="52.2" lengthAdjust="spacingAndGlyphs">1.21500</text>
<text class="ax" x="1413.4" y="457.1" textLength="52.2" lengthAdjust="spacingAndGlyphs">1.21000</text>
<text class="ax" x="1413.4" y="527.1" textLength="52.2" lengthAdjust="spacingAndGlyphs">1.20500</text>
<text class="ax" x="1413.4" y="597.1" textLength="52.2" lengthAdjust="spacingAndGlyphs">1.20000</text>
<text class="ax" x="1413.4" y="667.1" textLength="52.2" lengthAdjust="spacingAndGlyphs">1.19500</text>
<text class="ax" x="1413.4" y="737.1" textLength="52.2" lengthAdjust="spacingAndGlyphs">1.19000</text>
<g>
<path d="M1400 94.0H1471.5a2.5 2.5 0 0 1 2.5 2.5V112.5a2.5 2.5 0 0 1 -2.5 2.5H1400z" fill="#4caf50"/>
<rect x="1400" y="103.9" width="6" height="1.2" fill="#fff" fill-opacity="0.75"/>
<text class="lb" x="1413.6" y="109.8" textLength="52.2" lengthAdjust="spacingAndGlyphs">1.23487</text>
</g>
<g>
<path d="M1400 202.0H1471.5a2.5 2.5 0 0 1 2.5 2.5V220.5a2.5 2.5 0 0 1 -2.5 2.5H1400z" fill="#4caf50"/>
<rect x="1400" y="211.9" width="6" height="1.2" fill="#fff" fill-opacity="0.75"/>
<text class="lb" x="1413.6" y="217.8" textLength="52.2" lengthAdjust="spacingAndGlyphs">1.22710</text>
</g>
<g>
<path d="M1400 285.0H1471.5a2.5 2.5 0 0 1 2.5 2.5V303.5a2.5 2.5 0 0 1 -2.5 2.5H1400z" fill="#f44336"/>
<rect x="1400" y="294.9" width="6" height="1.2" fill="#fff" fill-opacity="0.75"/>
<text class="lb" x="1413.6" y="300.8" textLength="52.2" lengthAdjust="spacingAndGlyphs">1.22121</text>
</g>
<g>
<path d="M1400 333.0H1471.5a2.5 2.5 0 0 1 2.5 2.5V351.5a2.5 2.5 0 0 1 -2.5 2.5H1400z" fill="#4caf50"/>
<rect x="1400" y="342.9" width="6" height="1.2" fill="#fff" fill-opacity="0.75"/>
<text class="lb" x="1413.6" y="348.8" textLength="52.2" lengthAdjust="spacingAndGlyphs">1.21773</text>
</g>
<g>
<path d="M1400 401.0H1471.5a2.5 2.5 0 0 1 2.5 2.5V419.5a2.5 2.5 0 0 1 -2.5 2.5H1400z" fill="#ef5552"/>
<rect x="1400" y="410.9" width="6" height="1.2" fill="#fff" fill-opacity="0.75"/>
<text class="lb" x="1413.6" y="416.8" textLength="52.2" lengthAdjust="spacingAndGlyphs">1.21288</text>
</g>
<g>
<path d="M1400 380.0H1471.5a2.5 2.5 0 0 1 2.5 2.5V398.5a2.5 2.5 0 0 1 -2.5 2.5H1400z" fill="#f44336"/>
<rect x="1400" y="389.9" width="6" height="1.2" fill="#fff" fill-opacity="0.75"/>
<text class="lb" x="1413.6" y="395.8" textLength="52.2" lengthAdjust="spacingAndGlyphs">1.21300</text>
</g>
<g>
<path d="M1400 503.0H1471.5a2.5 2.5 0 0 1 2.5 2.5V521.5a2.5 2.5 0 0 1 -2.5 2.5H1400z" fill="#f44336"/>
<rect x="1400" y="512.9" width="6" height="1.2" fill="#fff" fill-opacity="0.75"/>
<text class="lb" x="1413.6" y="518.8" textLength="52.2" lengthAdjust="spacingAndGlyphs">1.20560</text>
</g>
<g clip-path="url(#cpa)">
<path d="M1400 762.0H1471.5a2.5 2.5 0 0 1 2.5 2.5V780.5a2.5 2.5 0 0 1 -2.5 2.5H1400z" fill="#26a69a"/>
<rect x="1400" y="771.9" width="6" height="1.2" fill="#fff" fill-opacity="0.75"/>
<text class="lb" x="1413.6" y="777.8" textLength="52.2" lengthAdjust="spacingAndGlyphs">1.18716</text>
</g>
<rect x="1422.5" y="64.5" width="35" height="22" rx="4.5" ry="4.5" fill="#fff" stroke="#d4d6de" stroke-width="1.1"/>
<text x="1440" y="79.7" text-anchor="middle" style="font-size:15px;fill:#2a2e39" textLength="25.4" lengthAdjust="spacingAndGlyphs">USD</text>
<text class="tm" x="82.5" y="795.2" textLength="15.0" lengthAdjust="spacingAndGlyphs">23</text>
<text class="tm" x="261.4" y="795.2" textLength="24.0" lengthAdjust="spacingAndGlyphs">Dec</text>
<text class="tm" x="380.4" y="795.2" textLength="7.6" lengthAdjust="spacingAndGlyphs">7</text>
<text class="tm" x="529.5" y="795.2" textLength="15.0" lengthAdjust="spacingAndGlyphs">14</text>
<text class="tm" x="678.5" y="795.2" textLength="15.0" lengthAdjust="spacingAndGlyphs">21</text>
<text class="tm" x="797.5" y="795.2" textLength="15.0" lengthAdjust="spacingAndGlyphs">28</text>
<text class="tm" x="1065.5" y="795.2" textLength="15.0" lengthAdjust="spacingAndGlyphs">11</text>
<text class="tm" x="1214.5" y="795.2" textLength="15.0" lengthAdjust="spacingAndGlyphs">18</text>
<text class="tm" x="1363.5" y="795.2" textLength="15.0" lengthAdjust="spacingAndGlyphs">25</text>
<text class="tm" x="911.2" y="795.2" style="font-weight:bold;fill:#131722" textLength="33" lengthAdjust="spacingAndGlyphs">2021</text>
<rect x="8.5" y="55.5" width="1472" height="752" fill="none" stroke="#000" stroke-width="1.15"/>
<text class="hb" x="8.7" y="21.7" textLength="55.1" lengthAdjust="spacingAndGlyphs">ocando</text>
<text class="h" x="69.7" y="21.7" textLength="447.6" lengthAdjust="spacingAndGlyphs">published on TradingView.com, August 02, 2021 04:00:25 UTC</text>
<text class="hb" x="8.7" y="43.4" textLength="120.9" lengthAdjust="spacingAndGlyphs">FX:EURUSD, 240</text>
<text class="h" x="136.8" y="43.4" textLength="57.1" lengthAdjust="spacingAndGlyphs">1.18716</text>
<path d="M205 32.3L211.2 42.9H198.8z" fill="#26a69a"/>
<text class="h" x="216.8" y="43.4" textLength="135.1" lengthAdjust="spacingAndGlyphs">+0.00043 (+0.04%)</text>
<text class="hb" x="357.5" y="43.4" textLength="15.4" lengthAdjust="spacingAndGlyphs">O:</text>
<text class="ht" x="376.0" y="43.4" textLength="57.7" lengthAdjust="spacingAndGlyphs">1.18690</text>
<text class="hb" x="440.4" y="43.4" textLength="13.9" lengthAdjust="spacingAndGlyphs">H:</text>
<text class="ht" x="457.7" y="43.4" textLength="56.3" lengthAdjust="spacingAndGlyphs">1.18729</text>
<text class="hb" x="521.5" y="43.4" textLength="10.6" lengthAdjust="spacingAndGlyphs">L:</text>
<text class="ht" x="535.4" y="43.4" textLength="56.6" lengthAdjust="spacingAndGlyphs">1.18590</text>
<text class="hb" x="598.7" y="43.4" textLength="13.5" lengthAdjust="spacingAndGlyphs">C:</text>
<text class="ht" x="615.5" y="43.4" textLength="57.1" lengthAdjust="spacingAndGlyphs">1.18716</text>
<g fill="#131722">
<path d="M8 822.9H19.2V836.9H13.6V828.6H8z"/>
<circle cx="24.2" cy="825.6" r="2.75"/>
<path d="M29.6 822.9H36.1L30.5 836.9H24.2z"/>
<text x="42.1" y="836.9" style="font-size:19.5px;font-weight:bold;stroke:#131722;stroke-width:0.45px" textLength="114.4" lengthAdjust="spacingAndGlyphs">TradingView</text>
</g>
</svg></body></html>
